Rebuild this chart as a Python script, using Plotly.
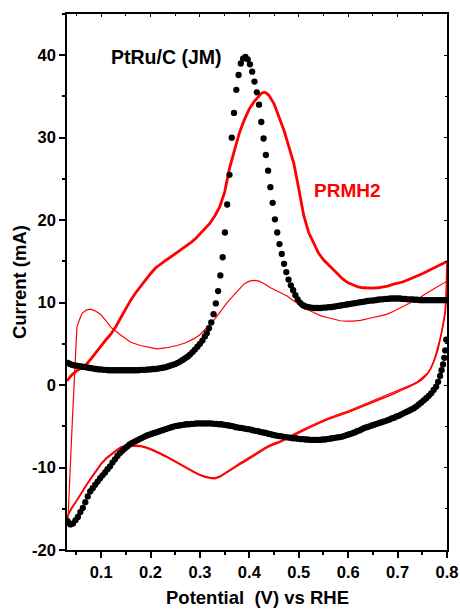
import plotly.graph_objects as go

# ---------------- data ----------------
# PtRu/C (JM): anodic (forward) sweep
ptru_fwd_x = [0.033, 0.037, 0.041, 0.045, 0.05, 0.055, 0.06, 0.065, 0.07, 0.075, 0.08, 0.085, 0.09, 0.095,
              0.1, 0.105, 0.11, 0.115, 0.12, 0.125, 0.13, 0.135, 0.14, 0.145, 0.15, 0.155, 0.16, 0.165, 0.17,
              0.175, 0.18, 0.185, 0.19, 0.195, 0.2, 0.205, 0.21, 0.215, 0.22, 0.225, 0.23, 0.235, 0.24, 0.245,
              0.25, 0.255, 0.26, 0.265, 0.27, 0.275, 0.28, 0.285, 0.29, 0.295, 0.3, 0.305, 0.31, 0.3138,
              0.3184, 0.323, 0.3276, 0.3322, 0.3368, 0.3414, 0.346, 0.3506, 0.3552, 0.3598, 0.3644, 0.369,
              0.3736, 0.3782, 0.3828, 0.3874, 0.392, 0.3966, 0.4012, 0.4058, 0.4104, 0.415, 0.4196, 0.4242,
              0.4288, 0.4334, 0.438, 0.4426, 0.4472, 0.4518, 0.4564, 0.461, 0.4656, 0.4702, 0.4748, 0.4794,
              0.484, 0.4886, 0.4932, 0.4978, 0.5024, 0.507, 0.511, 0.515, 0.52, 0.525, 0.53, 0.535, 0.54,
              0.545, 0.55, 0.555, 0.56, 0.565, 0.57, 0.575, 0.58, 0.585, 0.59, 0.595, 0.6, 0.605, 0.61, 0.615,
              0.62, 0.625, 0.63, 0.635, 0.64, 0.645, 0.65, 0.655, 0.66, 0.665, 0.67, 0.675, 0.68, 0.685, 0.69,
              0.695, 0.7, 0.705, 0.71, 0.715, 0.72, 0.725, 0.73, 0.735, 0.74, 0.745, 0.75, 0.755, 0.76, 0.765,
              0.77, 0.775, 0.78, 0.785, 0.79, 0.795, 0.8]
ptru_fwd_y = [2.7, 2.55, 2.45, 2.4, 2.35, 2.3, 2.25, 2.2, 2.15, 2.1, 2.05, 2.0, 1.95, 1.9,
              1.9, 1.85, 1.85, 1.8, 1.8, 1.8, 1.8, 1.8, 1.8, 1.8, 1.8, 1.8, 1.8, 1.8, 1.8,
              1.8, 1.85, 1.85, 1.85, 1.9, 1.9, 1.95, 1.95, 2.0, 2.05, 2.1, 2.15, 2.25, 2.35, 2.45,
              2.55, 2.7, 2.85, 3.05, 3.25, 3.45, 3.7, 4.0, 4.3, 4.65, 5.0, 5.4, 5.9, 6.3,
              6.9, 7.6, 8.6, 9.9, 11.4, 13.3, 15.5, 18.5, 21.9, 25.5, 30.0, 33.0,
              35.8, 37.6, 39.0, 39.6, 39.8, 39.5, 38.9, 38.0, 36.8, 35.5, 34.0, 31.9,
              29.9, 27.9, 26.0, 24.0, 22.1, 20.1, 18.5, 17.1, 15.9, 14.7, 13.7, 12.8,
              12.1, 11.5, 10.9, 10.4, 10.0, 9.75, 9.6, 9.5, 9.45, 9.4, 9.35, 9.35, 9.35,
              9.35, 9.4, 9.4, 9.45, 9.45, 9.5, 9.55, 9.6, 9.65, 9.7, 9.75, 9.8, 9.85, 9.9, 9.95,
              10.0, 10.05, 10.1, 10.15, 10.2, 10.25, 10.25, 10.3, 10.35, 10.4, 10.4, 10.45, 10.45, 10.5, 10.5,
              10.5, 10.5, 10.5, 10.45, 10.45, 10.4, 10.4, 10.4, 10.35, 10.35, 10.3, 10.3, 10.3, 10.3, 10.3,
              10.3, 10.3, 10.3, 10.3, 10.3, 10.3, 10.3]

# PtRu/C (JM): cathodic (reverse) sweep
ptru_rev_x = [0.7985, 0.7965, 0.7945, 0.792, 0.789, 0.786, 0.782, 0.778, 0.773, 0.768, 0.763, 0.758, 0.753,
              0.748, 0.743, 0.738, 0.733, 0.728, 0.723, 0.718, 0.713, 0.708, 0.703, 0.698, 0.693, 0.688,
              0.683, 0.678, 0.673, 0.668, 0.663, 0.658, 0.653, 0.648, 0.643, 0.638, 0.633, 0.628, 0.623,
              0.618, 0.613, 0.608, 0.603, 0.598, 0.593, 0.588, 0.583, 0.578, 0.573, 0.568, 0.563, 0.558,
              0.553, 0.548, 0.543, 0.538, 0.533, 0.528, 0.523, 0.518, 0.513, 0.508, 0.503, 0.498, 0.493,
              0.488, 0.483, 0.478, 0.473, 0.468, 0.463, 0.458, 0.453, 0.448, 0.443, 0.438, 0.433, 0.428,
              0.423, 0.418, 0.413, 0.408, 0.403, 0.398, 0.393, 0.388, 0.383, 0.378, 0.373, 0.368, 0.363,
              0.358, 0.353, 0.348, 0.343, 0.338, 0.333, 0.328, 0.323, 0.318, 0.313, 0.308, 0.303, 0.298,
              0.293, 0.288, 0.283, 0.278, 0.273, 0.268, 0.263, 0.258, 0.253, 0.248, 0.243, 0.238, 0.233,
              0.228, 0.223, 0.218, 0.213, 0.208, 0.203, 0.198, 0.193, 0.188, 0.183, 0.178, 0.173, 0.168,
              0.163, 0.158, 0.153, 0.148, 0.143, 0.138, 0.133, 0.128, 0.123, 0.118, 0.113, 0.108, 0.103,
              0.098, 0.093, 0.088, 0.083, 0.078, 0.073, 0.068, 0.063, 0.058, 0.053, 0.048, 0.043, 0.038,
              0.034, 0.032]
ptru_rev_y = [5.5, 4.2, 3.3, 2.5, 1.8, 1.1, 0.4, -0.2, -0.6, -1.0, -1.3, -1.6, -1.85,
              -2.1, -2.35, -2.6, -2.8, -2.95, -3.1, -3.25, -3.4, -3.55, -3.7, -3.8, -3.95, -4.05,
              -4.2, -4.3, -4.4, -4.5, -4.6, -4.7, -4.8, -4.9, -5.0, -5.1, -5.2, -5.35, -5.5,
              -5.6, -5.75, -5.85, -5.95, -6.05, -6.15, -6.25, -6.3, -6.35, -6.4, -6.45, -6.5, -6.55,
              -6.6, -6.6, -6.65, -6.65, -6.65, -6.65, -6.65, -6.6, -6.6, -6.55, -6.55, -6.5, -6.45,
              -6.45, -6.4, -6.35, -6.3, -6.25, -6.2, -6.15, -6.1, -6.05, -5.95, -5.9, -5.8, -5.75,
              -5.7, -5.6, -5.55, -5.5, -5.4, -5.35, -5.3, -5.25, -5.2, -5.15, -5.1, -5.0, -4.95,
              -4.9, -4.85, -4.8, -4.75, -4.75, -4.7, -4.7, -4.65, -4.65, -4.65, -4.65, -4.65, -4.65,
              -4.65, -4.7, -4.7, -4.75, -4.75, -4.8, -4.85, -4.9, -4.95, -5.0, -5.1, -5.2, -5.3,
              -5.4, -5.5, -5.6, -5.7, -5.8, -5.9, -6.0, -6.1, -6.25, -6.4, -6.55, -6.7, -6.85,
              -7.0, -7.2, -7.45, -7.7, -7.95, -8.25, -8.6, -9.0, -9.4, -9.85, -10.2, -10.6, -10.95,
              -11.3, -11.7, -12.1, -12.5, -12.9, -13.5, -14.2, -14.9, -15.4, -16.0, -16.4, -16.8, -16.9,
              -16.7, -16.5]

# PRMH2: first cycle, anodic sweep (thick red)
prmh2_fwd1_x = [0.031, 0.04, 0.05, 0.06, 0.07, 0.08, 0.09, 0.1, 0.11, 0.12, 0.13, 0.14, 0.15, 0.16, 0.17,
                0.18, 0.19, 0.2, 0.21, 0.22, 0.23, 0.24, 0.25, 0.26, 0.27, 0.28, 0.29, 0.3, 0.31, 0.32,
                0.33, 0.34, 0.35, 0.36, 0.37, 0.38, 0.39, 0.4, 0.41, 0.42, 0.425, 0.43, 0.435, 0.44, 0.45,
                0.46, 0.47, 0.48, 0.49, 0.5, 0.51, 0.52, 0.53, 0.54, 0.55, 0.56, 0.57, 0.58, 0.59, 0.6,
                0.61, 0.62, 0.63, 0.64, 0.65, 0.66, 0.67, 0.68, 0.69, 0.7, 0.71, 0.72, 0.73, 0.74, 0.75,
                0.76, 0.77, 0.78, 0.79, 0.8]
prmh2_fwd1_y = [0.5, 1.2, 1.7, 2.1, 2.5, 3.2, 4.0, 4.8, 5.5, 6.2, 7.1, 8.2, 9.3, 10.3, 11.2,
                12.0, 12.8, 13.5, 14.2, 14.7, 15.1, 15.5, 15.9, 16.3, 16.7, 17.2, 17.7, 18.3, 18.9, 19.6,
                20.5, 21.6, 23.4, 26.3, 28.5, 30.6, 32.2, 33.5, 34.4, 35.1, 35.4, 35.5, 35.4, 35.1, 34.1,
                32.5, 30.9, 28.9, 26.9, 23.8, 20.6, 18.5, 17.2, 16.0, 15.2, 14.6, 13.9, 13.3, 12.8, 12.4,
                12.1, 11.9, 11.8, 11.75, 11.75, 11.8, 11.9, 12.0, 12.2, 12.35, 12.5, 12.75, 13.0, 13.2, 13.5,
                13.8, 14.1, 14.4, 14.7, 15.0]

# PRMH2: first cycle, cathodic sweep
prmh2_rev1_x = [0.8, 0.7995, 0.798, 0.796, 0.793, 0.79, 0.786, 0.782, 0.778, 0.773, 0.767, 0.76, 0.75,
                0.74, 0.73, 0.72, 0.71, 0.7, 0.69, 0.68, 0.67, 0.66, 0.65, 0.64, 0.63, 0.62, 0.61, 0.6,
                0.59, 0.58, 0.57, 0.56, 0.55, 0.54, 0.53, 0.52, 0.51, 0.5, 0.49, 0.48, 0.47, 0.46, 0.45,
                0.44, 0.43, 0.42, 0.41, 0.4, 0.39, 0.38, 0.37, 0.36, 0.35, 0.34, 0.33, 0.32, 0.31, 0.3,
                0.29, 0.28, 0.27, 0.26, 0.25, 0.24, 0.23, 0.22, 0.21, 0.2, 0.19, 0.18, 0.17, 0.16, 0.15,
                0.14, 0.13, 0.12, 0.11, 0.1, 0.09, 0.08, 0.07, 0.06, 0.05, 0.04, 0.034, 0.031]
prmh2_rev1_y = [15.0, 12.5, 10.5, 8.8, 7.6, 6.7, 5.6, 4.6, 3.8, 2.8, 2.0, 1.3, 0.7,
                0.3, -0.05, -0.3, -0.55, -0.85, -1.1, -1.35, -1.6, -1.85, -2.1, -2.35, -2.6, -2.85, -3.1, -3.3,
                -3.5, -3.7, -3.9, -4.15, -4.4, -4.65, -4.9, -5.2, -5.5, -5.8, -6.1, -6.45, -6.75, -7.0, -7.2,
                -7.45, -7.8, -8.15, -8.55, -8.9, -9.3, -9.65, -10.0, -10.4, -10.8, -11.15, -11.35, -11.3, -11.15, -10.95,
                -10.65, -10.3, -9.95, -9.6, -9.25, -8.95, -8.65, -8.35, -8.05, -7.8, -7.6, -7.45, -7.4, -7.35, -7.35,
                -7.55, -8.0, -8.45, -8.95, -9.6, -10.4, -11.3, -12.2, -13.2, -14.1, -15.0, -15.7, -16.0]

# PRMH2: second cycle, anodic sweep (thin red)
prmh2_fwd2_x = [0.031, 0.033, 0.041, 0.049, 0.051, 0.056, 0.0615, 0.07, 0.078, 0.088, 0.0986, 0.11, 0.12,
                0.139, 0.16, 0.1796, 0.2, 0.213, 0.23, 0.254, 0.27, 0.2875, 0.3, 0.3146, 0.33, 0.3415,
                0.355, 0.3685, 0.38, 0.39, 0.4, 0.41, 0.42, 0.43, 0.4427, 0.46, 0.4765, 0.49, 0.5, 0.517,
                0.53, 0.545, 0.5575, 0.57, 0.584, 0.598, 0.61, 0.625, 0.6385, 0.65, 0.665, 0.679, 0.69,
                0.7, 0.719, 0.74, 0.76, 0.78, 0.8]
prmh2_fwd2_y = [-16.0, -16.3, -5.4, 5.8, 7.0, 7.9, 8.7, 9.1, 9.2, 9.0, 8.6, 7.8, 7.0,
                6.1, 5.2, 4.8, 4.5, 4.4, 4.5, 4.8, 5.1, 5.6, 6.1, 7.0, 8.0, 8.9,
                10.0, 10.9, 11.7, 12.3, 12.6, 12.7, 12.6, 12.3, 11.8, 11.3, 10.8, 10.2, 9.8, 9.2,
                8.8, 8.4, 8.2, 8.0, 7.8, 7.75, 7.75, 7.85, 8.0, 8.2, 8.4, 8.6, 8.9,
                9.2, 9.7, 10.4, 11.2, 11.9, 12.6]

# PRMH2: second cycle, cathodic sweep
prmh2_rev2_x = [0.8, 0.7985, 0.797, 0.794, 0.79, 0.786, 0.782, 0.777, 0.772, 0.766, 0.76, 0.75, 0.74,
                0.73, 0.72, 0.71, 0.7, 0.69, 0.68, 0.67, 0.66, 0.65, 0.64, 0.63, 0.62, 0.61, 0.6, 0.59,
                0.58, 0.57, 0.56, 0.55, 0.54, 0.53, 0.52, 0.51, 0.5, 0.49, 0.48, 0.47, 0.46, 0.45, 0.44,
                0.43, 0.42, 0.41, 0.4, 0.39, 0.38, 0.37, 0.36, 0.35, 0.34, 0.33, 0.32, 0.31, 0.3, 0.29,
                0.28, 0.27, 0.26, 0.25, 0.24, 0.23, 0.22, 0.21, 0.2, 0.19, 0.18, 0.17, 0.16, 0.15, 0.14,
                0.13, 0.12, 0.11, 0.1, 0.09, 0.08, 0.07, 0.06, 0.05, 0.04, 0.034]
prmh2_rev2_y = [12.6, 10.5, 9.0, 7.8, 6.6, 5.4, 4.3, 3.4, 2.6, 1.9, 1.4, 0.85, 0.4,
                0.1, -0.15, -0.4, -0.7, -0.95, -1.2, -1.45, -1.7, -1.95, -2.2, -2.45, -2.7, -2.95, -3.15, -3.35,
                -3.55, -3.75, -4.0, -4.25, -4.5, -4.75, -5.05, -5.35, -5.65, -5.95, -6.3, -6.6, -6.85, -7.05, -7.3,
                -7.65, -8.0, -8.4, -8.75, -9.15, -9.5, -9.9, -10.3, -10.7, -11.05, -11.25, -11.2, -11.05, -10.85, -10.55,
                -10.2, -9.85, -9.5, -9.15, -8.85, -8.55, -8.25, -7.95, -7.7, -7.5, -7.35, -7.3, -7.25, -7.3, -7.5,
                -7.9, -8.35, -8.85, -9.5, -10.3, -11.2, -12.1, -13.1, -14.0, -14.9, -15.6]

x_tick_vals = [0.1, 0.2, 0.3, 0.4, 0.5, 0.6, 0.7, 0.8]
x_tick_text = ["0.1", "0.2", "0.3", "0.4", "0.5", "0.6", "0.7", "0.8"]
y_tick_vals = [-20, -10, 0, 10, 20, 30, 40]
y_tick_text = ["-20", "-10", "0", "10", "20", "30", "40"]

X_RANGE = [0.031, 0.8]
Y_RANGE = [-20, 45]

RED = "#ff0000"
FONT = "Liberation Sans, Arial, sans-serif"

fig = go.Figure()

fig.add_trace(go.Scatter(x=prmh2_rev2_x, y=prmh2_rev2_y, mode="lines",
                         line=dict(color=RED, width=1.3), hoverinfo="skip"))
fig.add_trace(go.Scatter(x=prmh2_rev1_x, y=prmh2_rev1_y, mode="lines",
                         line=dict(color=RED, width=1.6), hoverinfo="skip"))
fig.add_trace(go.Scatter(x=prmh2_fwd2_x, y=prmh2_fwd2_y, mode="lines",
                         line=dict(color=RED, width=1.2), hoverinfo="skip"))
fig.add_trace(go.Scatter(x=prmh2_fwd1_x, y=prmh2_fwd1_y, mode="lines",
                         line=dict(color=RED, width=2.8), hoverinfo="skip"))
fig.add_trace(go.Scatter(x=ptru_fwd_x + ptru_rev_x, y=ptru_fwd_y + ptru_rev_y, mode="markers",
                         marker=dict(color="black", size=6.3, line=dict(width=0)), hoverinfo="skip"))
# empty trace to realise the mirrored (inside-tick) axes
fig.add_trace(go.Scatter(x=[], y=[], xaxis="x2", yaxis="y2", hoverinfo="skip"))

axis_common = dict(showgrid=False, zeroline=False, color="black", linecolor="black", automargin=False)
tickfont = dict(size=16.5, family=FONT, color="black", weight="bold")

fig.update_layout(
    template="none",
    width=460, height=609,
    margin=dict(l=66.5, r=13.3, t=14, b=59, autoexpand=False),
    paper_bgcolor="white", plot_bgcolor="white",
    showlegend=False,
    font=dict(family=FONT, color="black"),
    xaxis=dict(range=X_RANGE, tickvals=x_tick_vals, ticktext=x_tick_text,
               showline=True, linewidth=1.6, mirror=True,
               ticks="outside", ticklen=6, tickwidth=1.5, tickcolor="black",
               minor=dict(ticks="outside", ticklen=3, tickwidth=1.5, tickcolor="black", dtick=0.05, tick0=0),
               tickfont=tickfont, **axis_common),
    yaxis=dict(range=Y_RANGE, tickvals=y_tick_vals, ticktext=y_tick_text,
               showline=True, linewidth=1.6, mirror=True,
               ticks="outside", ticklen=6, tickwidth=1.5, tickcolor="black",
               minor=dict(ticks="outside", ticklen=3, tickwidth=1.5, tickcolor="black", dtick=5, tick0=0),
               tickfont=tickfont, **axis_common),
    xaxis2=dict(range=X_RANGE, overlaying="x", side="top", anchor="y", tickvals=x_tick_vals,
                showticklabels=False, showline=False,
                ticks="inside", ticklen=3, tickwidth=1.2, tickcolor="black",
                minor=dict(ticks="inside", ticklen=2, tickwidth=1.2, tickcolor="black", dtick=0.05, tick0=0),
                **axis_common),
    yaxis2=dict(range=Y_RANGE, overlaying="y", side="right", anchor="x", tickvals=y_tick_vals,
                showticklabels=False, showline=False,
                ticks="inside", ticklen=3, tickwidth=1.2, tickcolor="black",
                minor=dict(ticks="inside", ticklen=2, tickwidth=1.2, tickcolor="black", dtick=5, tick0=0),
                **axis_common),
    annotations=[
        dict(text="<b>PtRu/C (JM)</b>", x=0.2326, y=39.76, xref="x", yref="y", showarrow=False,
             xanchor="center", yanchor="middle", font=dict(size=19.5, family=FONT, color="black")),
        dict(text="<b>PRMH2</b>", x=0.598, y=23.64, xref="x", yref="y", showarrow=False,
             xanchor="center", yanchor="middle", font=dict(size=19, family=FONT, color=RED)),
        dict(text="<b>Current (mA)</b>", x=-0.126, y=0.5, xref="paper", yref="paper", showarrow=False,
             xanchor="center", yanchor="middle", textangle=-90, font=dict(size=18.5, family=FONT, color="black")),
        dict(text="<b>Potential  (V) vs RHE</b>", x=0.5, y=-0.0895, xref="paper", yref="paper",
             showarrow=False, xanchor="center", yanchor="middle", font=dict(size=18.5, family=FONT, color="black")),
    ],
)

fig.write_html("out.html")
